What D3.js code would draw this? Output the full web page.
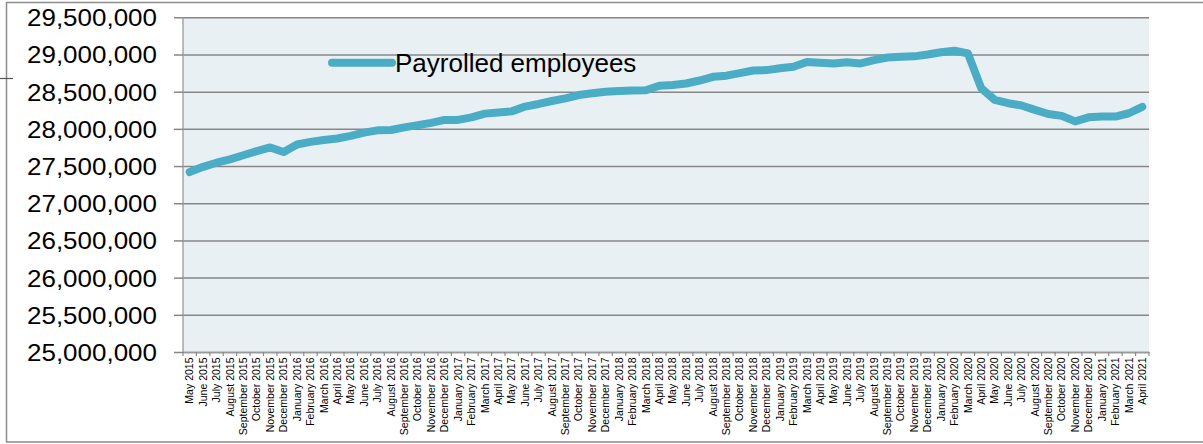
<!DOCTYPE html>
<html>
<head>
<meta charset="utf-8">
<script src="https://cdn.jsdelivr.net/npm/d3@7/dist/d3.min.js"></script>
<style>
  html, body { margin: 0; padding: 0; background: #ffffff; }
  svg { display: block; font-family: "Liberation Sans", Arial, sans-serif; }
</style>
</head>
<body>
<svg id="chart" width="1203" height="444"></svg>
<script>
// Monthly categories, May 2015 – April 2021
const months = [
  "May 2015","June 2015","July 2015","August 2015","September 2015","October 2015","November 2015","December 2015",
  "January 2016","February 2016","March 2016","April 2016","May 2016","June 2016","July 2016","August 2016","September 2016","October 2016","November 2016","December 2016",
  "January 2017","February 2017","March 2017","April 2017","May 2017","June 2017","July 2017","August 2017","September 2017","October 2017","November 2017","December 2017",
  "January 2018","February 2018","March 2018","April 2018","May 2018","June 2018","July 2018","August 2018","September 2018","October 2018","November 2018","December 2018",
  "January 2019","February 2019","March 2019","April 2019","May 2019","June 2019","July 2019","August 2019","September 2019","October 2019","November 2019","December 2019",
  "January 2020","February 2020","March 2020","April 2020","May 2020","June 2020","July 2020","August 2020","September 2020","October 2020","November 2020","December 2020",
  "January 2021","February 2021","March 2021","April 2021"
];

// Payrolled employees per month
const payrolled = [
  27420000, 27490000, 27545000, 27590000, 27645000, 27700000, 27750000, 27690000,
  27790000, 27825000, 27850000, 27870000, 27905000, 27950000, 27980000, 27985000, 28020000, 28050000, 28080000, 28120000,
  28120000, 28155000, 28205000, 28220000, 28235000, 28300000, 28335000, 28375000, 28410000, 28455000, 28480000, 28500000,
  28510000, 28515000, 28520000, 28580000, 28590000, 28610000, 28650000, 28700000, 28715000, 28750000, 28785000, 28790000,
  28815000, 28835000, 28900000, 28890000, 28880000, 28895000, 28880000, 28925000, 28960000, 28970000, 28975000, 29000000,
  29030000, 29050000, 29015000, 28545000, 28390000, 28345000, 28315000, 28255000, 28200000, 28175000, 28100000, 28155000,
  28165000, 28165000, 28210000, 28295000
];

const seriesName = "Payrolled employees";
const yTicks = [25000000, 25500000, 26000000, 26500000, 27000000, 27500000, 28000000, 28500000, 29000000, 29500000];

const svg = d3.select("#chart");
const frameColor = "#8c8c8c";
const gridColor = "#878787";
const lineColor = "#4BACC6";

// outer frame
svg.append("path")
  .attr("d", "M1203,2.5 H6.5 V442 H1203")
  .attr("fill", "none").attr("stroke", frameColor).attr("stroke-width", 1.5);
svg.append("line")
  .attr("x1", 0).attr("x2", 13).attr("y1", 78.5).attr("y2", 78.5)
  .attr("stroke", "#555").attr("stroke-width", 1.2);

const plot = { left: 183, top: 17.3, right: 1149, bottom: 352 };
const W = plot.right - plot.left;
const H = plot.bottom - plot.top;

const x = d3.scaleBand().domain(months).range([0, W]).padding(0);
const y = d3.scaleLinear().domain([25000000, 29500000]).range([H, 0]);

const g = svg.append("g").attr("transform", `translate(${plot.left},${plot.top})`);

// plot background
g.append("rect").attr("x", 0).attr("y", 0).attr("width", W).attr("height", H).attr("fill", "#E8F0F4");

// horizontal gridlines
g.append("g")
  .call(d3.axisLeft(y).tickValues(yTicks).tickSize(-W).tickFormat(""))
  .call(s => s.select(".domain").remove())
  .call(s => s.selectAll(".tick line").attr("stroke", gridColor).attr("stroke-width", 1.5));

// y axis with outside ticks and labels
const fmt = d3.format(",");
g.append("g")
  .call(d3.axisLeft(y).tickValues(yTicks).tickSize(9).tickPadding(17).tickFormat(d => fmt(d)))
  .call(s => s.select(".domain").attr("stroke", "#9a9a9a").attr("stroke-width", 1.3).attr("d", `M0,0V${H}`))
  .call(s => s.selectAll(".tick line").attr("stroke", gridColor).attr("stroke-width", 1.5))
  .call(s => s.selectAll(".tick text")
    .attr("fill", "#000")
    .attr("font-size", 24)
    .attr("textLength", 130)
    .attr("lengthAdjust", "spacingAndGlyphs")
    .attr("dy", "0.35em"));

// x axis: labels at category centres, ticks at category boundaries
const xAxisG = g.append("g").attr("transform", `translate(0,${H})`);
xAxisG.call(d3.axisBottom(x).tickSize(0).tickSizeOuter(0).tickPadding(0))
  .call(s => s.select(".domain").attr("stroke", "#9a9a9a").attr("stroke-width", 1.3))
  .call(s => s.selectAll(".tick text")
    .attr("fill", "#000")
    .attr("font-size", 10.5)
    .attr("text-anchor", "end")
    .attr("transform", "rotate(-90)")
    .attr("x", -5.5)
    .attr("y", 0)
    .attr("dy", "0.35em"));
const boundaries = months.map(m => x(m)).concat([x(months[months.length - 1]) + x.bandwidth()]);
xAxisG.selectAll("line.btick").data(boundaries).join("line")
  .attr("class", "btick")
  .attr("x1", d => d).attr("x2", d => d)
  .attr("y1", 0).attr("y2", 4)
  .attr("stroke", "#8a8a8a").attr("stroke-width", 1.2);

// series line
const line = d3.line()
  .x((d, i) => x(months[i]) + x.bandwidth() / 2)
  .y(d => y(d));
g.append("path")
  .datum(payrolled)
  .attr("d", line)
  .attr("fill", "none")
  .attr("stroke", lineColor)
  .attr("stroke-width", 8)
  .attr("stroke-linejoin", "round")
  .attr("stroke-linecap", "round");

// legend
const legend = svg.append("g").attr("transform", "translate(332,62.7)");
legend.append("line")
  .attr("x1", 0).attr("x2", 60).attr("y1", 0).attr("y2", 0)
  .attr("stroke", lineColor).attr("stroke-width", 8).attr("stroke-linecap", "round");
legend.append("text")
  .attr("x", 63).attr("y", 9)
  .attr("font-size", 26)
  .attr("fill", "#000")
  .text(seriesName);
</script>
</body>
</html>
